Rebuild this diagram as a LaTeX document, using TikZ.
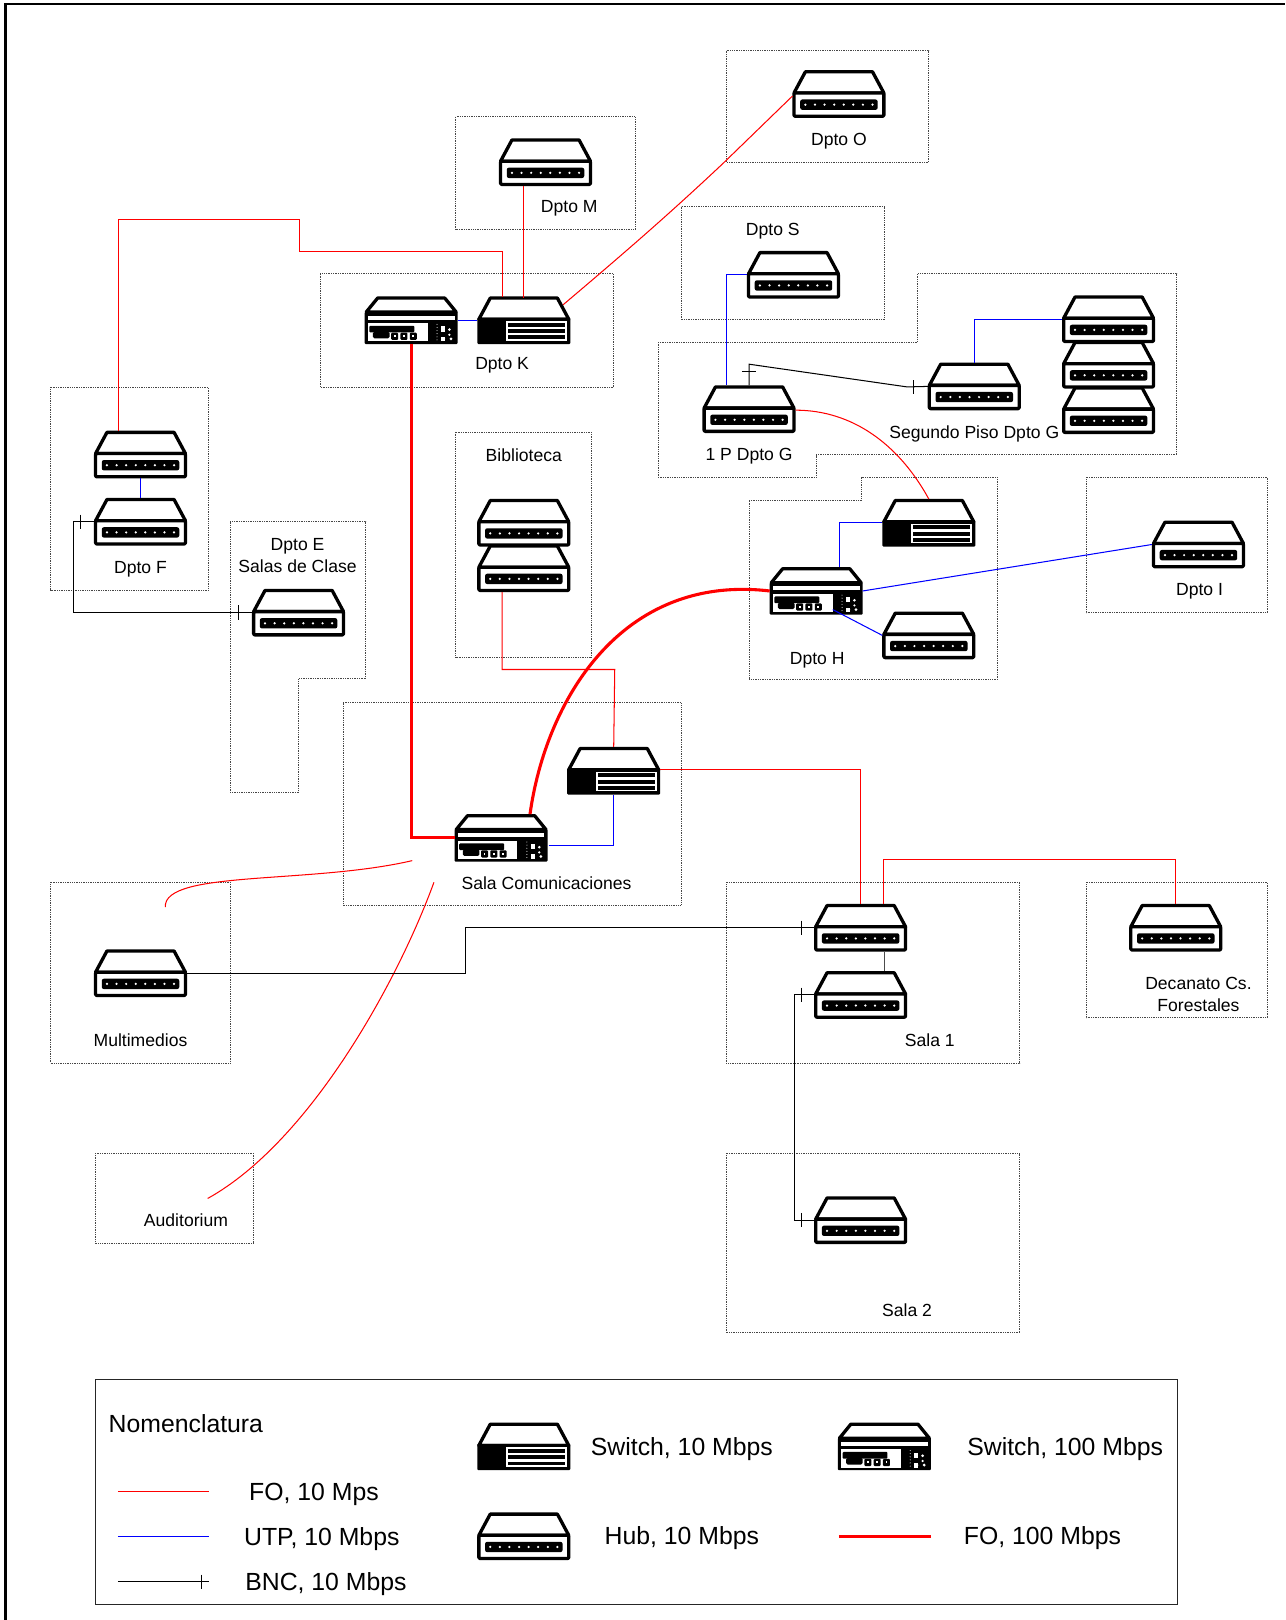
\documentclass[tikz,border=0pt]{standalone}
\usepackage{fontspec}
\setmainfont{Liberation Sans}
\definecolor{fored}{RGB}{255,0,0}
\definecolor{utpblue}{RGB}{0,0,255}
\definecolor{roomline}{RGB}{70,70,70}
\tikzset{
  x=1pt,y=-1pt,
  room/.style={draw=roomline,line width=.7pt,densely dotted},
  fo/.style={draw=fored,line width=1pt},
  fothick/.style={draw=fored,line width=3pt},
  utp/.style={draw=utpblue,line width=1pt},
  bnc/.style={draw=black,line width=1pt},
  lbl/.style={font=\fontsize{17}{21}\selectfont,align=center,inner sep=0pt,text=black},
  leg/.style={font=\fontsize{24}{28}\selectfont,inner sep=0pt,text=black},
  devbox/.style={minimum width=90pt,minimum height=46pt,inner sep=0pt,outer sep=0pt},
  body/.style={draw=black,line width=3.2pt,fill=white,line join=round},
  hubicon/.pic={
    \draw[body] (-43.5,-1)--(-32.5,-21.5)--(32.5,-21.5)--(43.5,-1)--cycle;
    \draw[body,rounded corners=1pt] (-43.5,-1) rectangle (43.5,21.5);
    \fill[black,rounded corners=2pt] (-37.5,5.3) rectangle (37.5,15.3);
    \foreach \i in {-32.5,-23.2,-13.9,-4.6,4.6,13.9,23.2,32.5} \fill[white] (\i,10.3) circle (1.2pt);
  },
  swtenicon/.pic={
    \draw[body] (-43.5,-1)--(-32.5,-21.5)--(32.5,-21.5)--(43.5,-1)--cycle;
    \fill[black,rounded corners=1pt] (-45,-2.5) rectangle (45,23);
    \fill[white] (-17,1) rectangle (42,20);
    \foreach \i in {2.6,8.6,14.6} \fill[black] (-15,\i) rectangle (40,\i+3.8);
  },
  swhundredicon/.pic={
    \draw[body] (-43.5,-8)--(-32.5,-21.5)--(32.5,-21.5)--(43.5,-8)--cycle;
    \fill[black,rounded corners=1pt] (-45,-8) rectangle (45,23);
    \fill[white] (-42,-4.4) rectangle (42,-.5);
    \fill[white] (-41.6,2.7) rectangle (42.5,20.5);
    \fill[black,rounded corners=1pt] (-40.5,5.3) rectangle (3,11.8);
    \fill[black,rounded corners=1.5pt] (-37,11) rectangle (-21,17.5);
    \foreach \i in {-16,-7,2} {
      \fill[black,rounded corners=1pt] (\i-3.4,12) rectangle (\i+3.4,19);
      \fill[white] (\i-.8,14.5) rectangle (\i+.8,16.5);
    }
    \fill[black] (15.8,2.7) rectangle (28.7,20.5);
    \fill[black] (28.7,2.7) rectangle (42.5,6);
    \fill[black] (33,6) rectangle (42.5,20.5);
    \fill[black] (28.7,11) rectangle (33,16);
    \fill[white] (37,9) circle (1.4pt);
    \fill[white] (37,14) circle (1.2pt);
    \fill[white] (31.5,18) circle (1.5pt);
    \fill[white] (38.5,18) circle (1.5pt);
    \foreach \i in {4,7,...,19} \fill[white] (25,\i) circle (.5pt);
  },
}
\newcommand{\dev}[4]{\node[devbox] (#2) at (#3,#4) {}; \pic at (#2.center) {#1};}
\begin{document}
\begin{tikzpicture}
\useasboundingbox (0,0) rectangle (1244,1568);
\fill[white] (0,0) rectangle (1244,1568);
% outer frame
\coordinate (fa) at (5.5,1568);
\coordinate (fb) at (5.5,4);
\coordinate (fc) at (1244,4);
\draw[black,line width=2.4pt] (fa)--(fb)--(fc);
% rooms
\draw[room] (703,49) rectangle (899,157);
\draw[room] (441,113) rectangle (615,222);
\draw[room] (659,200) rectangle (856,309);
\draw[room] (310,265) rectangle (594,375);
\draw[room] (637,331)--(888,331)--(888,265)--(1139,265)--(1139,440)--(790,440)--(790,462)--(637,462)--cycle;
\draw[room] (49,375) rectangle (202,571);
\draw[room] (223,505)--(354,505)--(354,657)--(289,657)--(289,767)--(223,767)--cycle;
\draw[room] (441,418) rectangle (572,636);
\draw[room] (725,484)--(834,484)--(834,462)--(965,462)--(965,658)--(725,658)--cycle;
\draw[room] (1051,462) rectangle (1227,593);
\draw[room] (332,680) rectangle (659,876);
\draw[room] (49,854) rectangle (223,1029);
\draw[room] (703,854) rectangle (987,1029);
\draw[room] (1051,854) rectangle (1227,985);
\draw[room] (92,1116) rectangle (245,1203);
\draw[room] (703,1116) rectangle (987,1290);
\draw[draw=black!85,line width=1.2pt] (92.5,1335) rectangle (1140,1553);
% devices
\dev{hubicon}{hubO}{812}{91}
\dev{hubicon}{hubM}{528}{157}
\dev{hubicon}{hubS}{768}{266}
\dev{swhundredicon}{kHundred}{398}{310}
\dev{swtenicon}{kTen}{507}{310}
\dev{hubicon}{hubFa}{136}{440}
\dev{hubicon}{hubFb}{136}{505}
\dev{hubicon}{hubE}{289}{593}
\dev{hubicon}{bibA}{507}{506}
\dev{hubicon}{bibB}{507}{550}
\dev{hubicon}{hubG}{725}{396}
\dev{hubicon}{hubSeg}{943}{374}
\dev{hubicon}{stackA}{1073}{309}
\dev{hubicon}{stackB}{1073}{353}
\dev{hubicon}{stackC}{1073}{397}
\dev{swtenicon}{hTen}{899}{506}
\dev{swhundredicon}{hHundred}{790}{572}
\dev{hubicon}{hubH}{899}{615}
\dev{hubicon}{hubI}{1160}{527}
\dev{swtenicon}{comTen}{594}{746}
\dev{swhundredicon}{comHundred}{485}{811}
\dev{hubicon}{hubMulti}{136}{942}
\dev{hubicon}{salaA}{833}{898}
\dev{hubicon}{salaB}{833}{963}
\dev{hubicon}{hubDec}{1138}{898}
\dev{hubicon}{salaC}{833}{1181}
\dev{swtenicon}{legTen}{507}{1400}
\dev{swhundredicon}{legHundred}{856}{1400}
\dev{hubicon}{legHub}{507}{1487}
% labels
\node[lbl] (tO) at (812,137) {Dpto O};
\node[lbl] (tM) at (551,202) {Dpto M};
\node[lbl] (tS) at (748,224) {Dpto S};
\node[lbl] (tK) at (486,354) {Dpto K};
\node[lbl] (tSeg) at (943,420) {Segundo Piso Dpto G};
\node[lbl] (tG) at (725,442) {1 P Dpto G};
\node[lbl] (tBib) at (507,441) {Biblioteca};
\node[lbl] (tF) at (136,551) {Dpto F};
\node[lbl] (tE) at (288,537.5) {Dpto E\\Salas de Clase};
\node[lbl] (tH) at (791,639) {Dpto H};
\node[lbl] (tI) at (1161,572) {Dpto I};
\node[lbl] (tCom) at (529,855) {Sala Comunicaciones};
\node[lbl] (tMul) at (136,1007) {Multimedios};
\node[lbl] (tSa) at (900,1007) {Sala 1};
\node[lbl] (tSb) at (878,1268) {Sala 2};
\node[lbl] (tDec) at (1160,962.5) {Decanato Cs.\\Forestales};
\node[lbl] (tAud) at (180,1181) {Auditorium};
\node[leg,anchor=west] (tNom) at (105,1378) {Nomenclatura};
\node[leg,anchor=west] (tFo) at (241,1446) {FO, 10 Mps};
\node[leg] (tUtp) at (311.5,1490) {UTP, 10 Mbps};
\node[leg] (tBnc) at (315.5,1533) {BNC, 10 Mbps};
\node[leg] (tSwT) at (660,1403) {Switch, 10 Mbps};
\node[leg] (tSwH) at (1031,1403) {Switch, 100 Mbps};
\node[leg] (tHub) at (660,1489) {Hub, 10 Mbps};
\node[leg] (tFoH) at (1009,1489) {FO, 100 Mbps};
% FO 10
\coordinate (oBend) at (700,158);
\draw[fo] ([xshift=38pt,yshift=-8pt]kTen.north) .. controls (610,240) and (650,205) .. (oBend) -- ([yshift=-2pt]hubO.west);
\draw[fo] ([yshift=-1pt]kTen.north) -- ([xshift=-21pt]hubM.south);
\coordinate (fB) at (290,212);
\coordinate (fC) at (290,243);
\draw[fo] ([xshift=-21pt]hubFa.north) |- (fB) -- (fC) -| ([xshift=-21pt]kTen.north);
\draw[fo] ([xshift=45pt,yshift=-1pt]hubG.center) .. controls (825,397) and (870,430) .. (hTen.north);
\coordinate (bBend) at (595,648);
\draw[fo] ([xshift=-21pt]bibB.south) |- (bBend) -- (comTen.north);
\draw[fo] ([yshift=1pt]comTen.east) -| (salaA.north);
\draw[fo] ([xshift=22pt]salaA.north) |- ([yshift=43pt]hubDec.north) -- (hubDec.north);
\coordinate (mA) at (160,878);
\coordinate (mB) at (399,833);
\draw[fo] (mA) .. controls (158,842) and (300,856) .. (mB);
\coordinate (aA) at (420,854);
\coordinate (aB) at (201,1160);
\draw[fo] (aA) .. controls (385,950) and (300,1105) .. (aB);
% FO 100
\draw[fothick] (kHundred.south) |- (comHundred.west);
\draw[fothick] ([xshift=28pt]comHundred.north) .. controls (528,680) and (600,555) .. (hHundred.west);
% UTP
\draw[utp] (kHundred.east) -- (kTen.west);
\draw[utp] (hubS.west) -| ([xshift=-22pt]hubG.north);
\draw[utp] (hubSeg.north) |- (stackA.west);
\draw[utp] (hubFa.south) -- (hubFb.north);
\draw[utp] ([xshift=23pt]hHundred.north) |- (hTen.west);
\draw[utp] ([xshift=16pt,yshift=-18pt]hHundred.center) -- (hubH.west);
\draw[utp] (hHundred.east) -- (hubI.west);
\draw[utp] ([xshift=46pt,yshift=-7pt]comHundred.center) -| (comTen.south);
% BNC
\draw[bnc] (hubFb.west) -| (71,593) -- (hubE.west);
\draw[bnc] (78,498) -- (78,512);
\draw[bnc] (231,586) -- (231,600);
\coordinate (gBend) at (725,352.5);
\coordinate (gBendB) at (878,374.5);
\draw[bnc] (hubG.north) -- (gBend) -- (gBendB) -- (hubSeg.west);
\draw[bnc] (718,360) -- (732,360);
\draw[bnc] (884,368) -- (884,381);
\coordinate (mBend) at (451,942);
\draw[bnc] (hubMulti.east) -- (mBend) |- (salaA.west);
\draw[bnc] (776,891) -- (776,905);
\draw[black!70,line width=1.4pt] ([xshift=23pt]salaA.south) -- ([xshift=23pt]salaB.north);
\coordinate (sBend) at (769,963);
\draw[bnc] (salaB.west) -- (sBend) |- (salaC.west);
\draw[bnc] (776,956) -- (776,970);
\draw[bnc] (776,1174) -- (776,1188);
% legend lines
\coordinate (lfa) at (114,1444); \coordinate (lfb) at (202,1444);
\coordinate (lua) at (114,1487.5); \coordinate (lub) at (202,1487.5);
\coordinate (lba) at (114,1531); \coordinate (lbb) at (202,1531);
\coordinate (lha) at (812,1487.5); \coordinate (lhb) at (901,1487.5);
\draw[fo] (lfa) -- (lfb);
\draw[utp] (lua) -- (lub);
\draw[bnc] (lba) -- (lbb);
\draw[bnc] (195,1524) -- (195,1538);
\draw[fothick] (lha) -- (lhb);
\end{tikzpicture}
\end{document}
